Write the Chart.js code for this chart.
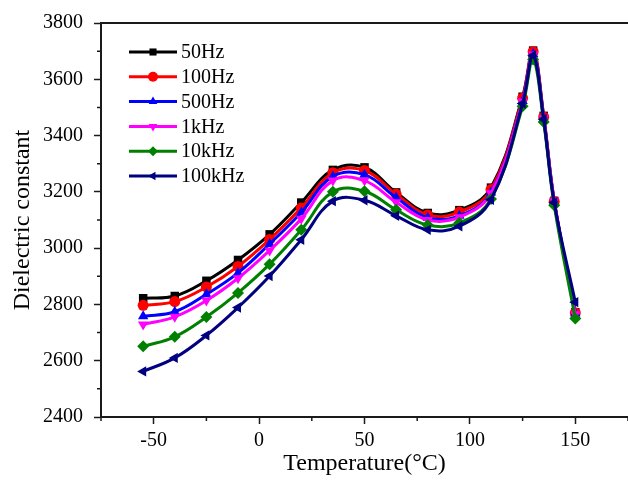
<!DOCTYPE html>
<html>
<head>
<meta charset="utf-8">
<script src="https://cdn.jsdelivr.net/npm/chart.js@4.4.1/dist/chart.umd.min.js"></script>
<style>
  html, body { margin: 0; padding: 0; background: #fff; }
  canvas { display: block; }
</style>
</head>
<body>
<canvas id="eps-chart" width="628" height="484"></canvas>
<script>
// temperature (°C) and dielectric constant per frequency
const temps = [-55, -40, -25, -10, 5, 20, 35, 50, 65, 80, 95, 110, 125, 130, 135, 140, 150];
const eps50Hz = [2822, 2830, 2884, 2958, 3049, 3162, 3278, 3287, 3198, 3125, 3135, 3215, 3538, 3702, 3470, 3168, 2772];
const eps100Hz = [2797, 2810, 2862, 2935, 3031, 3143, 3268, 3276, 3192, 3118, 3128, 3208, 3533, 3698, 3466, 3166, 2770];
const eps500Hz = [2758, 2774, 2836, 2912, 3015, 3127, 3255, 3261, 3180, 3108, 3115, 3198, 3523, 3690, 3460, 3164, 2768];
const eps1kHz = [2729, 2756, 2814, 2893, 2992, 3104, 3240, 3240, 3163, 3100, 3110, 3195, 3521, 3688, 3462, 3168, 2765];
const eps10kHz = [2651, 2685, 2755, 2841, 2943, 3065, 3200, 3202, 3136, 3082, 3090, 3175, 3504, 3670, 3448, 3152, 2750];
const eps100kHz = [2562, 2610, 2690, 2789, 2901, 3030, 3167, 3170, 3115, 3065, 3078, 3172, 3514, 3685, 3458, 3162, 2808];

const seriesLabels = ['50Hz', '100Hz', '500Hz', '1kHz', '10kHz', '100kHz'];
const seriesValues = [eps50Hz, eps100Hz, eps500Hz, eps1kHz, eps10kHz, eps100kHz];
const seriesColors = ['#000000', '#ff0000', '#0000ff', '#ff00ff', '#008000', '#000080'];
const seriesPoints = ['rect', 'circle', 'triangle', 'triangle', 'rectRot', 'triangle'];
const seriesRotation = [0, 0, 0, 180, 0, 270];

const FONT = "'Liberation Serif', 'Times New Roman', serif";
const AXIS = '#1a1a1a';

const datasets = seriesLabels.map((label, i) => ({
    label: label,
    data: temps.map((t, j) => ({ x: t, y: seriesValues[i][j] })),
    borderColor: seriesColors[i],
    backgroundColor: seriesColors[i],
    borderWidth: 3,
    pointStyle: seriesPoints[i],
    pointRotation: seriesRotation[i],
    pointRadius: i === 1 ? 5.5 : 6,
    pointBorderWidth: 0,
    tension: 0.4,
    order: seriesLabels.length - i
}));

function noSidePadding(scale) {
    scale.paddingLeft = 0;
    scale.paddingRight = 0;
}

// short minor ticks plus an in-plot legend with line + marker
const extrasPlugin = {
    id: 'extras',
    afterDraw(chart) {
        const ctx = chart.ctx;
        const area = chart.chartArea;
        const xs = chart.scales.x;
        const ys = chart.scales.y;
        ctx.save();
        ctx.strokeStyle = AXIS;
        ctx.lineWidth = 1.5;
        ctx.beginPath();
        xs.ticks.forEach(t => {
            if (t.value % 50 !== 0) {
                const px = xs.getPixelForValue(t.value);
                ctx.moveTo(px, area.bottom);
                ctx.lineTo(px, area.bottom + 4);
            }
        });
        ys.ticks.forEach(t => {
            if (t.value % 200 !== 0) {
                const py = ys.getPixelForValue(t.value);
                ctx.moveTo(area.left, py);
                ctx.lineTo(area.left - 4, py);
            }
        });
        ctx.stroke();

        const x0 = area.left + 28;
        const y0 = area.top + 29;
        ctx.font = '20px ' + FONT;
        ctx.textBaseline = 'middle';
        ctx.textAlign = 'left';
        chart.data.datasets.forEach((ds, i) => {
            const y = y0 + i * 24.8;
            ctx.strokeStyle = ds.borderColor;
            ctx.lineWidth = 3;
            ctx.beginPath();
            ctx.moveTo(x0, y);
            ctx.lineTo(x0 + 48, y);
            ctx.stroke();
            ctx.fillStyle = ds.backgroundColor;
            Chart.helpers.drawPoint(ctx, {
                pointStyle: ds.pointStyle,
                rotation: ds.pointRotation,
                radius: 5,
                borderWidth: 0
            }, x0 + 24, y);
            ctx.fillStyle = '#000';
            ctx.fillText(ds.label, x0 + 52, y + 1);
        });
        ctx.restore();
    }
};

new Chart(document.getElementById('eps-chart'), {
    type: 'line',
    data: { datasets: datasets },
    options: {
        responsive: false,
        animation: false,
        layout: { autoPadding: false, padding: { top: 21, right: 0, left: 0, bottom: 0 } },
        plugins: {
            legend: { display: false },
            tooltip: { enabled: false }
        },
        scales: {
            x: {
                type: 'linear',
                min: -75,
                max: 175,
                afterFit(scale) {
                    scale.height = 67;
                    noSidePadding(scale);
                },
                ticks: {
                    stepSize: 25,
                    color: '#000',
                    padding: 5,
                    maxRotation: 0,
                    font: { family: FONT, size: 20 },
                    callback: v => (v % 50 === 0 && v > -75 && v < 175) ? String(v) : ''
                },
                grid: {
                    drawOnChartArea: false,
                    tickLength: 7,
                    tickWidth: 1.5,
                    tickColor: c => (c.tick && c.tick.value % 50 === 0) ? AXIS : 'rgba(0,0,0,0)'
                },
                border: { display: true, color: AXIS, width: 2 },
                title: {
                    display: true,
                    text: 'Temperature(°C)',
                    color: '#000',
                    font: { family: FONT, size: 24 },
                    padding: { top: 0, bottom: 6 }
                }
            },
            xTop: {
                type: 'linear',
                position: 'top',
                min: -75,
                max: 175,
                afterFit(scale) {
                    scale.height = 0;
                    noSidePadding(scale);
                },
                ticks: { display: false },
                grid: { display: false },
                border: { display: true, color: AXIS, width: 2 }
            },
            y: {
                min: 2400,
                max: 3800,
                afterFit(scale) {
                    scale.width = 101;
                    noSidePadding(scale);
                },
                ticks: {
                    stepSize: 100,
                    color: '#000',
                    padding: 11,
                    font: { family: FONT, size: 20 },
                    callback: v => (v % 200 === 0) ? String(v) : ''
                },
                grid: {
                    drawOnChartArea: false,
                    tickLength: 7,
                    tickWidth: 1.5,
                    tickColor: c => (c.tick && c.tick.value % 200 === 0) ? AXIS : 'rgba(0,0,0,0)'
                },
                border: { display: true, color: AXIS, width: 2 },
                title: {
                    display: true,
                    text: 'Dielectric constant',
                    color: '#000',
                    font: { family: FONT, size: 24 },
                    padding: { top: 8, bottom: 0 }
                }
            }
        }
    },
    plugins: [extrasPlugin]
});
</script>
</body>
</html>
